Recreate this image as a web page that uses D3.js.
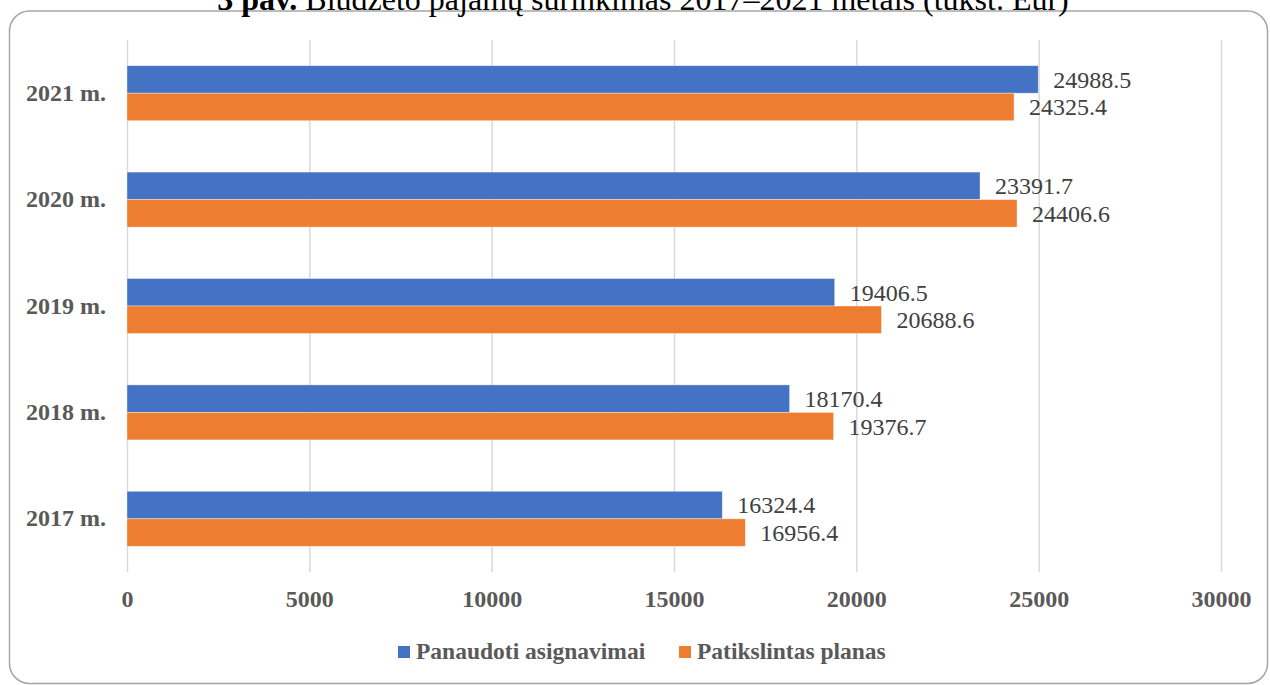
<!DOCTYPE html>
<html>
<head>
<meta charset="utf-8">
<script src="https://cdn.jsdelivr.net/npm/d3@7"></script>
<style>
	body { margin: 0; background: #fff; }
	svg { display: block; font-family: "Liberation Serif", "Times New Roman", serif; }
</style>
</head>
<body>
<div id="chart"></div>
<script>
"use strict";

const years = ['2017 m.', '2018 m.', '2019 m.', '2020 m.', '2021 m.'];
const seriesNames = ['Panaudoti asignavimai', 'Patikslintas planas'];
const used = [16324.4, 18170.4, 19406.5, 23391.7, 24988.5];
const plan = [16956.4, 19376.7, 20688.6, 24406.6, 24325.4];
const ticks = [0, 5000, 10000, 15000, 20000, 25000, 30000];
const colors = ['#4472C4', '#ED7D31'];

const W = 1270, H = 685;
const M = { left: 127, right: 49, top: 40, bottom: 113 };
const SERIF = '"Liberation Serif", "Times New Roman", serif';

const rows = years.map((y, i) => ({ year: y, values: [used[i], plan[i]] }));

const svg = d3.select('#chart').append('svg')
	.attr('width', W)
	.attr('height', H);

// outer frame
svg.append('rect')
	.attr('x', 9.5).attr('y', 11)
	.attr('width', 1258).attr('height', 672.5)
	.attr('rx', 20).attr('ry', 20)
	.attr('fill', 'none')
	.attr('stroke', '#a6a6a6')
	.attr('stroke-width', 1.5);

// title (its top is cut by the page edge, as in the source)
const title = svg.append('text')
	.attr('x', 643).attr('y', 9.5)
	.attr('text-anchor', 'middle')
	.attr('font-size', 32)
	.attr('fill', '#000');
title.append('tspan').attr('font-weight', 'bold').text('3 pav.');
title.append('tspan').text(' Biudžeto pajamų surinkimas 2017–2021 metais (tūkst. Eur)');

const x = d3.scaleLinear()
	.domain([0, 30000])
	.range([M.left, W - M.right]);

const y = d3.scaleBand()
	.domain(years.slice().reverse())
	.range([M.top, H - M.bottom])
	.paddingInner(0.483)
	.paddingOuter(0.2415);

const ySub = d3.scaleBand()
	.domain([0, 1])
	.range([0, y.bandwidth()]);

// gridlines + tick labels
const xAxis = svg.append('g')
	.attr('transform', `translate(0,${H - M.bottom})`)
	.call(d3.axisBottom(x).tickValues(ticks).tickSize(-(H - M.top - M.bottom)).tickPadding(18).tickFormat(d3.format('d')));
xAxis.select('.domain').remove();
xAxis.selectAll('.tick line').attr('stroke', '#d9d9d9').attr('stroke-width', 1.5);
xAxis.selectAll('.tick text')
	.attr('font-family', SERIF)
	.attr('font-size', 24)
	.attr('font-weight', 'bold')
	.attr('fill', '#595959');

// category labels
const yAxis = svg.append('g')
	.attr('transform', `translate(${M.left},0)`)
	.call(d3.axisLeft(y).tickSize(0).tickPadding(21));
yAxis.select('.domain').remove();
yAxis.selectAll('.tick text')
	.attr('font-family', SERIF)
	.attr('font-size', 24)
	.attr('font-weight', 'bold')
	.attr('fill', '#595959');

// bars
const group = svg.append('g').selectAll('g')
	.data(rows)
	.enter().append('g')
	.attr('transform', d => `translate(0,${y(d.year)})`);

group.selectAll('rect')
	.data(d => d.values.map((v, k) => ({ v, k })))
	.enter().append('rect')
	.attr('x', x(0))
	.attr('y', d => ySub(d.k))
	.attr('width', d => x(d.v) - x(0))
	.attr('height', ySub.bandwidth())
	.attr('fill', d => colors[d.k])
	.attr('stroke', '#fff')
	.attr('stroke-opacity', 0.5)
	.attr('stroke-width', 0.75);

group.selectAll('text')
	.data(d => d.values.map((v, k) => ({ v, k })))
	.enter().append('text')
	.attr('x', d => x(d.v) + 15)
	.attr('y', d => ySub(d.k) + ySub.bandwidth() / 2)
	.attr('dy', '0.35em')
	.attr('font-size', 24)
	.attr('fill', '#404040')
	.text(d => d3.format('.1f')(d.v));

// legend
const legend = svg.append('g');
const legendX = [398, 679];
seriesNames.forEach((name, k) => {
	legend.append('rect')
		.attr('x', legendX[k]).attr('y', 646)
		.attr('width', 12).attr('height', 12)
		.attr('fill', colors[k]);
	legend.append('text')
		.attr('x', legendX[k] + 18).attr('y', 659)
		.attr('font-size', 23.5)
		.attr('font-weight', 'bold')
		.attr('fill', '#595959')
		.text(name);
});
</script>
</body>
</html>
